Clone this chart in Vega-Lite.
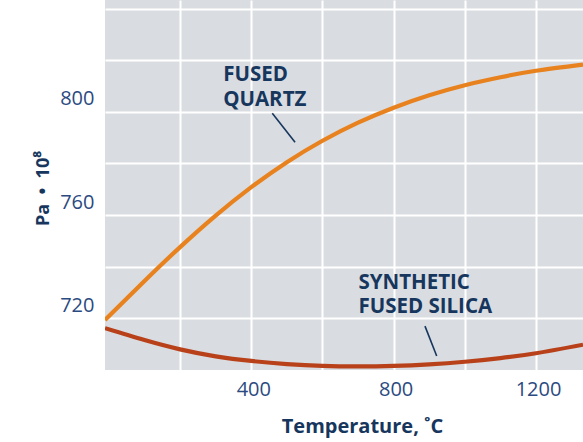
{
  "$schema": "https://vega.github.io/schema/vega-lite/v6.json",
  "width": 478,
  "height": 370,
  "autosize": {"type": "none"},
  "padding": {"left": 105, "top": 0, "right": 0, "bottom": 72},
  "background": "#ffffff",
  "config": {
    "view": {"fill": "#d9dce1", "stroke": null},
    "font": "Open Sans"
  },
  "datasets": {
    "curves": [
      {"series": "Fused Quartz", "t": -11, "v": 719.4},
      {"series": "Fused Quartz", "t": 100, "v": 734.5},
      {"series": "Fused Quartz", "t": 200, "v": 747.6},
      {"series": "Fused Quartz", "t": 300, "v": 759.8},
      {"series": "Fused Quartz", "t": 400, "v": 770.8},
      {"series": "Fused Quartz", "t": 500, "v": 780.5},
      {"series": "Fused Quartz", "t": 600, "v": 788.8},
      {"series": "Fused Quartz", "t": 700, "v": 795.8},
      {"series": "Fused Quartz", "t": 800, "v": 801.6},
      {"series": "Fused Quartz", "t": 900, "v": 806.4},
      {"series": "Fused Quartz", "t": 1000, "v": 810.3},
      {"series": "Fused Quartz", "t": 1100, "v": 813.4},
      {"series": "Fused Quartz", "t": 1200, "v": 815.9},
      {"series": "Fused Quartz", "t": 1332, "v": 818.3},
      {"series": "Synthetic Fused Silica", "t": -11, "v": 716.2},
      {"series": "Synthetic Fused Silica", "t": 100, "v": 711.6},
      {"series": "Synthetic Fused Silica", "t": 200, "v": 708.0},
      {"series": "Synthetic Fused Silica", "t": 300, "v": 705.3},
      {"series": "Synthetic Fused Silica", "t": 400, "v": 703.5},
      {"series": "Synthetic Fused Silica", "t": 500, "v": 702.3},
      {"series": "Synthetic Fused Silica", "t": 600, "v": 701.6},
      {"series": "Synthetic Fused Silica", "t": 700, "v": 701.4},
      {"series": "Synthetic Fused Silica", "t": 800, "v": 701.6},
      {"series": "Synthetic Fused Silica", "t": 900, "v": 702.2},
      {"series": "Synthetic Fused Silica", "t": 1000, "v": 703.2},
      {"series": "Synthetic Fused Silica", "t": 1100, "v": 704.6},
      {"series": "Synthetic Fused Silica", "t": 1200, "v": 706.5},
      {"series": "Synthetic Fused Silica", "t": 1332, "v": 709.8}
    ],
    "labels": [
      {"t": 321, "v": 811.9, "label": ["FUSED", "QUARTZ"]},
      {"t": 701, "v": 731.5, "label": ["SYNTHETIC", "FUSED SILICA"]}
    ],
    "leaders": [
      {"t": 459, "v": 799.4, "t2": 523, "v2": 788.2},
      {"t": 888, "v": 717.0, "t2": 921, "v2": 705.4}
    ]
  },
  "layer": [
    {
      "data": {"name": "curves"},
      "mark": {"type": "line", "strokeWidth": 4.2, "interpolate": "natural", "clip": true},
      "encoding": {
        "x": {
          "field": "t", "type": "quantitative",
          "scale": {"domain": [-11, 1332], "nice": false, "zero": false},
          "axis": {
            "values": [200, 400, 600, 800, 1000, 1200],
            "labelExpr": "datum.value % 400 == 0 ? datum.label : ''",
            "format": "d",
            "grid": true, "gridColor": "#ffffff", "gridWidth": 2, "gridOpacity": 1,
            "domain": false, "ticks": false,
            "labelFont": "Open Sans", "labelFontSize": 20, "labelColor": "#2b4a7f", "labelPadding": 9,
            "labelOffset": 2,
            "title": "Temperature, ˚C",
            "titleFont": "Open Sans", "titleFontSize": 20, "titleFontWeight": "bold", "titleColor": "#17365d",
            "titleX": 257, "titleY": 62, "titleBaseline": "alphabetic", "titleAlign": "center"
          }
        },
        "y": {
          "field": "v", "type": "quantitative",
          "scale": {"domain": [700, 843.3], "nice": false, "zero": false},
          "axis": {
            "values": [720, 740, 760, 780, 800, 820, 840],
            "labelExpr": "datum.value == 720 || datum.value == 760 || datum.value == 800 ? datum.label : ''",
            "grid": true, "gridColor": "#ffffff", "gridWidth": 2, "gridOpacity": 1,
            "domain": false, "ticks": false,
            "labelFont": "Open Sans", "labelFontSize": 20, "labelColor": "#2b4a7f", "labelPadding": 11,
            "labelOffset": -13,
            "title": "Pa\u00a0\u00a0•\u00a0\u00a010⁸",
            "titleFont": "Open Sans", "titleFontSize": 18, "titleFontWeight": "bold", "titleColor": "#17365d",
            "titleX": -57, "titleY": 188, "titleAngle": -90, "titleBaseline": "alphabetic", "titleAlign": "center"
          }
        },
        "color": {
          "field": "series", "type": "nominal",
          "scale": {"domain": ["Fused Quartz", "Synthetic Fused Silica"], "range": ["#e8821e", "#b8411a"]},
          "legend": null
        }
      }
    },
    {
      "data": {"name": "leaders"},
      "mark": {"type": "rule", "color": "#17365d", "strokeWidth": 1.6},
      "encoding": {
        "x": {"field": "t", "type": "quantitative"},
        "y": {"field": "v", "type": "quantitative"},
        "x2": {"field": "t2"},
        "y2": {"field": "v2"}
      }
    },
    {
      "data": {"name": "labels"},
      "mark": {"type": "text", "align": "left", "baseline": "alphabetic", "font": "Open Sans", "fontSize": 20.5, "fontWeight": "bold", "color": "#17365d", "lineHeight": 24.8},
      "encoding": {
        "x": {"field": "t", "type": "quantitative"},
        "y": {"field": "v", "type": "quantitative"},
        "text": {"field": "label"}
      }
    }
  ]
}
